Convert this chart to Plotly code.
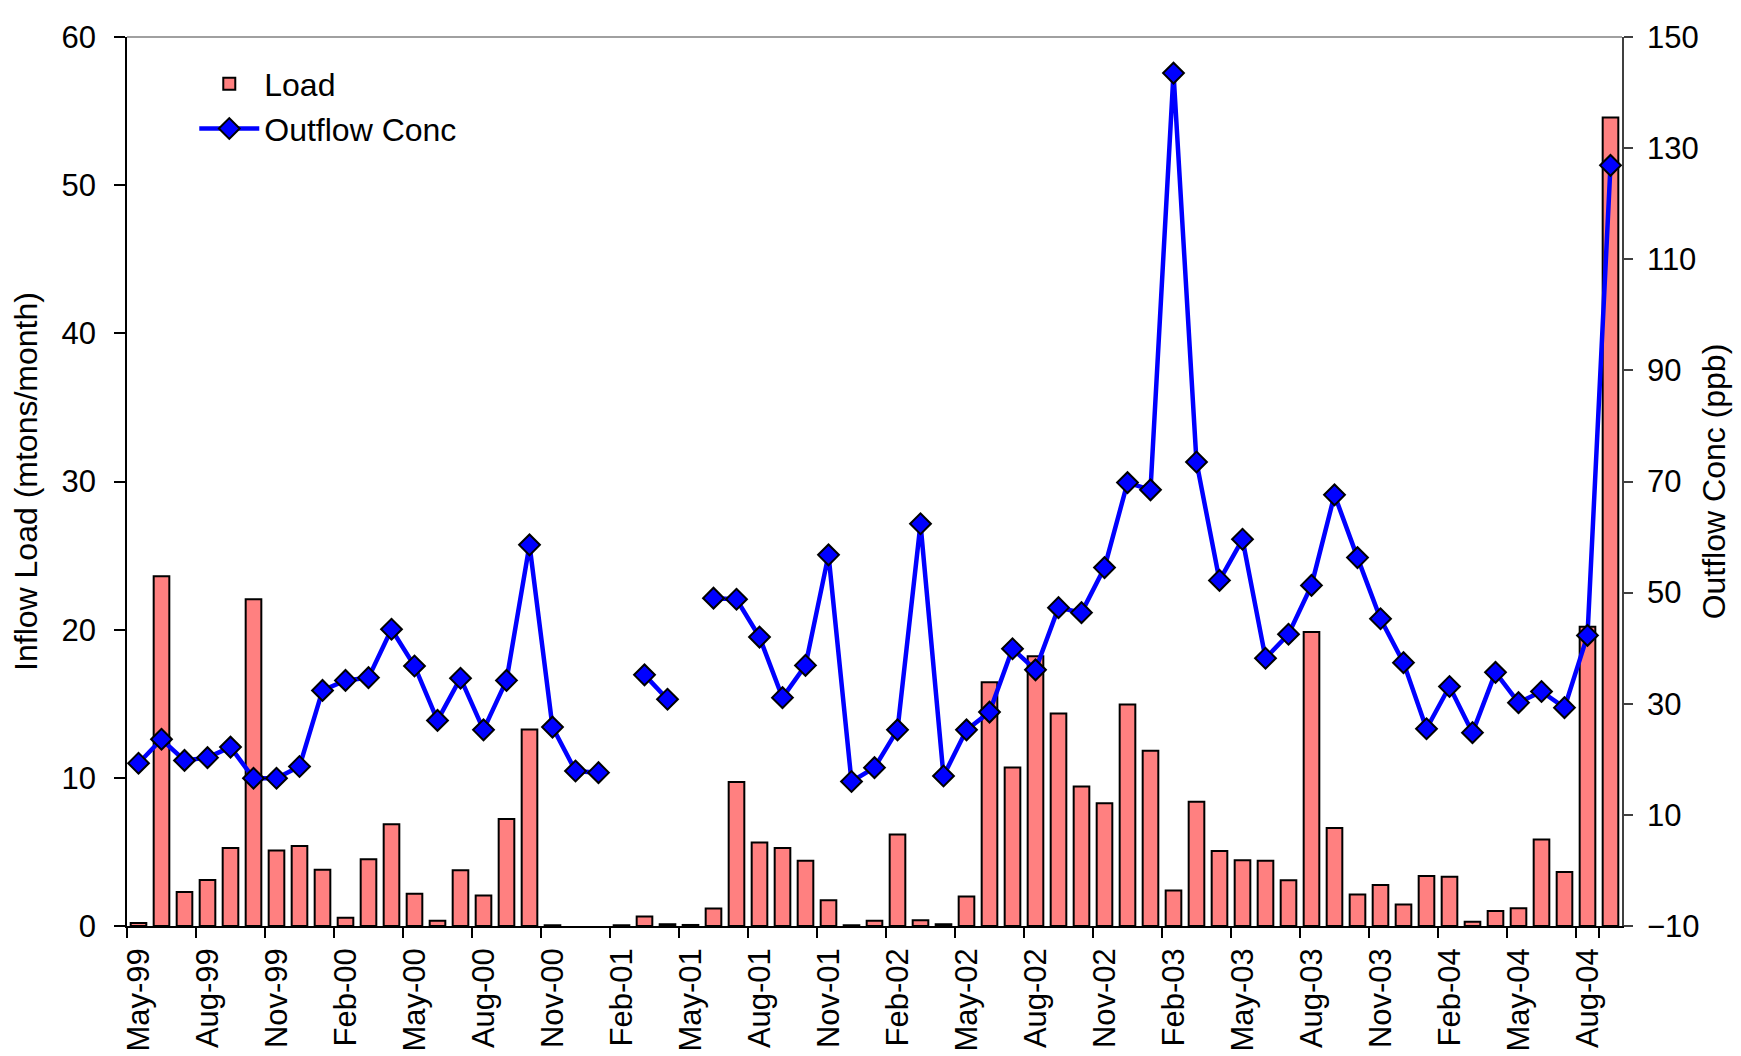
import plotly.graph_objects as go

months = ["May-99","Jun-99","Jul-99","Aug-99","Sep-99","Oct-99","Nov-99","Dec-99",
          "Jan-00","Feb-00","Mar-00","Apr-00","May-00","Jun-00","Jul-00","Aug-00","Sep-00","Oct-00","Nov-00","Dec-00",
          "Jan-01","Feb-01","Mar-01","Apr-01","May-01","Jun-01","Jul-01","Aug-01","Sep-01","Oct-01","Nov-01","Dec-01",
          "Jan-02","Feb-02","Mar-02","Apr-02","May-02","Jun-02","Jul-02","Aug-02","Sep-02","Oct-02","Nov-02","Dec-02",
          "Jan-03","Feb-03","Mar-03","Apr-03","May-03","Jun-03","Jul-03","Aug-03","Sep-03","Oct-03","Nov-03","Dec-03",
          "Jan-04","Feb-04","Mar-04","Apr-04","May-04","Jun-04","Jul-04","Aug-04","Sep-04"]

load = [0.2, 23.6, 2.3, 3.1, 5.26, 22.06, 5.1, 5.4,
        3.8, 0.55, 4.5, 6.87, 2.18, 0.36, 3.77, 2.06, 7.23, 13.27, 0.05, None,
        None, 0.05, 0.64, 0.12, 0.07, 1.18, 9.72, 5.64, 5.26, 4.41, 1.73, 0.05,
        0.36, 6.18, 0.38, 0.12, 1.99, 16.45, 10.69, 18.2, 14.34, 9.41, 8.29, 14.95,
        11.82, 2.40, 8.39, 5.07, 4.43, 4.41, 3.08, 19.85, 6.62, 2.13, 2.77, 1.45,
        3.37, 3.32, 0.28, 1.02, 1.19, 5.83, 3.65, 20.2, 54.56]

conc = [19.3, 23.6, 19.8, 20.3, 22.2, 16.6, 16.6, 18.7,
        32.4, 34.2, 34.7, 43.4, 36.8, 27.0, 34.6, 25.3, 34.2, 58.6, 25.8, 17.9,
        17.6, None, 35.2, 30.8, None, 49.0, 48.8, 42.0, 31.1, 36.9, 56.8, 16.0,
        18.5, 25.3, 62.4, 17.0, 25.3, 28.5, 39.9, 36.1, 47.3, 46.4, 54.5, 69.8,
        68.5, 143.5, 73.5, 52.2, 59.6, 38.2, 42.5, 51.3, 67.6, 56.3, 45.3, 37.4,
        25.5, 33.1, 24.8, 35.65, 30.2, 32.2, 29.3, 42.3, 126.9]

tick_labels = months[::3]
left_ticks = [0, 10, 20, 30, 40, 50, 60]
right_ticks = [-10, 10, 30, 50, 70, 90, 110, 130, 150]

FONT = "Liberation Sans, Arial, sans-serif"
FS = 31

fig = go.Figure()
fig.add_trace(go.Bar(
    x=months, y=load, name="Load", yaxis="y",
    marker=dict(color="#FF8080", line=dict(color="black", width=2)),
))
fig.add_trace(go.Scatter(
    x=months, y=conc, name="Outflow Conc", yaxis="y2",
    mode="lines+markers", connectgaps=False,
    line=dict(color="#0000FF", width=4.5),
    marker=dict(symbol="diamond", size=16, color="#0000FF",
                line=dict(color="black", width=2)),
))

fig.update_layout(
    width=1741, height=1056, autosize=False,
    margin=dict(l=119, r=127, t=26, b=131),
    paper_bgcolor="white", plot_bgcolor="white",
    font=dict(family=FONT, size=FS, color="black"),
    bargap=0.32,
    showlegend=True,
    legend=dict(x=0.045, y=0.978, xanchor="left", yanchor="top",
                bgcolor="rgba(0,0,0,0)", font=dict(size=32),
                itemwidth=60, tracegroupgap=4),
    xaxis=dict(
        type="category", categoryorder="array", categoryarray=months,
        range=[-0.5, len(months) - 0.5],
        tickmode="array", tickvals=tick_labels, ticktext=tick_labels,
        tickangle=-90, tickson="boundaries",
        ticks="outside", ticklen=10, tickwidth=1.5, tickcolor="black",
        ticklabelstandoff=8,
        showline=True, linecolor="black", linewidth=1.5,
        showgrid=False, zeroline=False,
        tickfont=dict(size=FS),
    ),
    yaxis=dict(
        title=dict(text="Inflow Load (mtons/month)", font=dict(size=32), standoff=18),
        range=[0, 60], tickmode="array", tickvals=left_ticks,
        ticks="outside", ticklen=11, tickwidth=1.5, tickcolor="black",
        ticklabelstandoff=12,
        showline=True, linecolor="black", linewidth=1.5,
        showgrid=False, zeroline=False,
        tickfont=dict(size=FS),
    ),
    yaxis2=dict(
        title=dict(text="Outflow Conc (ppb)", font=dict(size=32), standoff=4),
        overlaying="y", side="right",
        range=[-10, 150], tickmode="array", tickvals=right_ticks,
        ticks="outside", ticklen=9, tickwidth=1.5, tickcolor="#404040",
        ticklabelstandoff=8,
        showline=True, linecolor="#404040", linewidth=1.5,
        showgrid=False, zeroline=False,
        tickfont=dict(size=FS),
    ),
    shapes=[dict(type="line", xref="paper", yref="paper", x0=0, x1=1, y0=1, y1=1,
                 line=dict(color="#808080", width=1.5))],
)

fig.write_html("out.html")
